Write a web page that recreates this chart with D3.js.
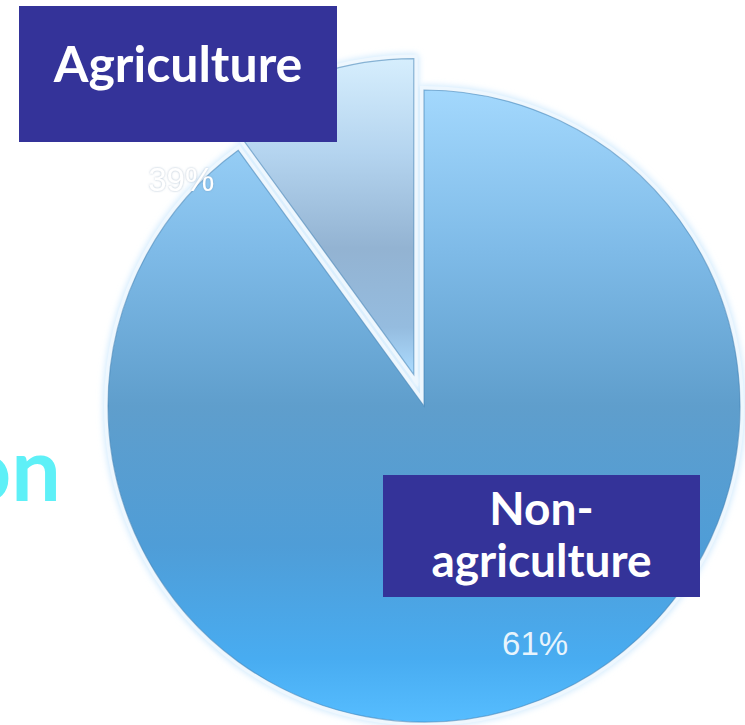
<!DOCTYPE html>
<html>
<head>
<meta charset="utf-8">
<script src="https://cdn.jsdelivr.net/npm/d3@7/dist/d3.min.js"></script>
<style>
  html, body { margin: 0; padding: 0; background: #ffffff; overflow: hidden; }
  svg { display: block; }
</style>
</head>
<body>
<svg id="chart" width="745" height="725"></svg>
<script>
// ---- data ----
const categories = ["Non-agriculture", "Agriculture"];
const sliceValues = [90, 10];               // drawn slice sizes (as seen in the picture)
const percentLabels = ["61%", "39%"];       // printed data labels
const boxLines = [["Non-", "agriculture"], ["Agriculture"]];
const sideText = "on";

const W = 745, H = 725;
const cx = 424, cy = 406, R = 316;
const explode = [0, 33];

const svg = d3.select("#chart");
const defs = svg.append("defs");

// gradients (in each slice's local coordinates, centre = 0,0)
const gNon = defs.append("linearGradient").attr("id", "gNon")
  .attr("gradientUnits", "userSpaceOnUse").attr("x1", 0).attr("x2", 0)
  .attr("y1", -R).attr("y2", R);
[[0, "#a3d8fd"], [0.25, "#7fbbe8"], [0.5, "#5f9ecc"], [0.72, "#4f9dd7"], [0.9, "#48acf1"], [1, "#56bdff"]]
  .forEach(([o, c]) => gNon.append("stop").attr("offset", o).attr("stop-color", c));

const gAg = defs.append("linearGradient").attr("id", "gAg")
  .attr("gradientUnits", "userSpaceOnUse").attr("x1", 0).attr("x2", 0)
  .attr("y1", -R).attr("y2", 0);
[[0, "#d6eefd"], [0.3, "#b4d4ef"], [0.6, "#93b3d2"], [0.85, "#95bcdf"], [1, "#acdcff"]]
  .forEach(([o, c]) => gAg.append("stop").attr("offset", o).attr("stop-color", c));

const blur = defs.append("filter").attr("id", "glow")
  .attr("x", "-20%").attr("y", "-20%").attr("width", "140%").attr("height", "140%");
blur.append("feGaussianBlur").attr("stdDeviation", 3);

const txtShadow = defs.append("filter").attr("id", "tshadow")
  .attr("x", "-20%").attr("y", "-30%").attr("width", "140%").attr("height", "160%");
txtShadow.append("feGaussianBlur").attr("in", "SourceAlpha").attr("stdDeviation", 1.2).attr("result", "b");
txtShadow.append("feFlood").attr("flood-color", "#6f8fae").attr("flood-opacity", 0.55);
txtShadow.append("feComposite").attr("in2", "b").attr("operator", "in").attr("result", "s");
const fm = txtShadow.append("feMerge");
fm.append("feMergeNode").attr("in", "s");
fm.append("feMergeNode").attr("in", "SourceGraphic");

// ---- side text (cut off at left edge, as in the reference) ----
svg.append("text")
  .attr("x", 61).attr("y", 501)
  .attr("text-anchor", "end")
  .attr("font-family", "Lato, 'Open Sans', sans-serif")
  .attr("font-weight", 700)
  .attr("font-size", 88)
  .attr("fill", "#5ef0f7")
  .text(sideText);

// ---- pie ----
const pie = d3.pie().sort(null).value(d => d).startAngle(0).endAngle(2 * Math.PI);
const arcs = pie(sliceValues);
const arc = d3.arc().innerRadius(0).outerRadius(R);
const fills = ["url(#gNon)", "url(#gAg)"];

const g = svg.append("g").attr("transform", `translate(${cx},${cy})`);

function offset(d, i) {
  const a = (d.startAngle + d.endAngle) / 2;
  return [Math.sin(a) * explode[i], -Math.cos(a) * explode[i]];
}

// outer soft glow
g.selectAll("path.halo").data(arcs).join("path")
  .attr("class", "halo")
  .attr("transform", (d, i) => `translate(${offset(d, i)})`)
  .attr("d", arc)
  .attr("fill", "none")
  .attr("stroke", "#cfe9fd")
  .attr("stroke-width", 10)
  .attr("stroke-linejoin", "round")
  .attr("filter", "url(#glow)");

// white border band
g.selectAll("path.band").data(arcs).join("path")
  .attr("class", "band")
  .attr("transform", (d, i) => `translate(${offset(d, i)})`)
  .attr("d", arc)
  .attr("fill", "none")
  .attr("stroke", "#eef7fe")
  .attr("stroke-width", 8)
  .attr("stroke-linejoin", "miter");

// slice fills
g.selectAll("path.slice").data(arcs).join("path")
  .attr("class", "slice")
  .attr("transform", (d, i) => `translate(${offset(d, i)})`)
  .attr("d", arc)
  .attr("fill", (d, i) => fills[i])
  .attr("stroke", "#3f7fb3")
  .attr("stroke-opacity", 0.55)
  .attr("stroke-width", 1.2);

// ---- percent labels ----
const labelPos = [
  { r: 263, a: 155 * Math.PI / 180 },
  { r: 332, a: -47 * Math.PI / 180 }
];
g.selectAll("text.pct").data(arcs).join("text")
  .attr("class", "pct")
  .attr("x", (d, i) => Math.sin(labelPos[i].a) * labelPos[i].r)
  .attr("y", (d, i) => -Math.cos(labelPos[i].a) * labelPos[i].r + 11)
  .attr("text-anchor", "middle")
  .attr("font-family", "'Liberation Sans', Arial, sans-serif")
  .attr("font-size", 33)
  .attr("fill", "#ffffff")
  .attr("fill-opacity", (d, i) => i === 0 ? 0.88 : 1)
  .attr("filter", (d, i) => i === 1 ? "url(#tshadow)" : null)
  .text((d, i) => percentLabels[i]);

// ---- category boxes ----
const boxes = [
  { x: 383, y: 475, w: 317, h: 122, size: 46, base: 525, lh: 52 },
  { x: 19, y: 6, w: 318, h: 136, size: 50, base: 82, lh: 0 }
];
const bg = svg.selectAll("g.box").data(categories).join("g").attr("class", "box");
bg.append("rect")
  .attr("x", (d, i) => boxes[i].x).attr("y", (d, i) => boxes[i].y)
  .attr("width", (d, i) => boxes[i].w).attr("height", (d, i) => boxes[i].h)
  .attr("fill", "#343399");
bg.each(function (d, i) {
  const b = boxes[i];
  const t = d3.select(this).append("text")
    .attr("text-anchor", "middle")
    .attr("font-family", "Lato, 'Open Sans', sans-serif")
    .attr("font-weight", 700)
    .attr("font-size", b.size)
    .attr("fill", "#ffffff");
  boxLines[i].forEach((line, k) => {
    t.append("tspan")
      .attr("x", b.x + b.w / 2)
      .attr("y", b.base + k * b.lh)
      .text(line);
  });
});
</script>
</body>
</html>
